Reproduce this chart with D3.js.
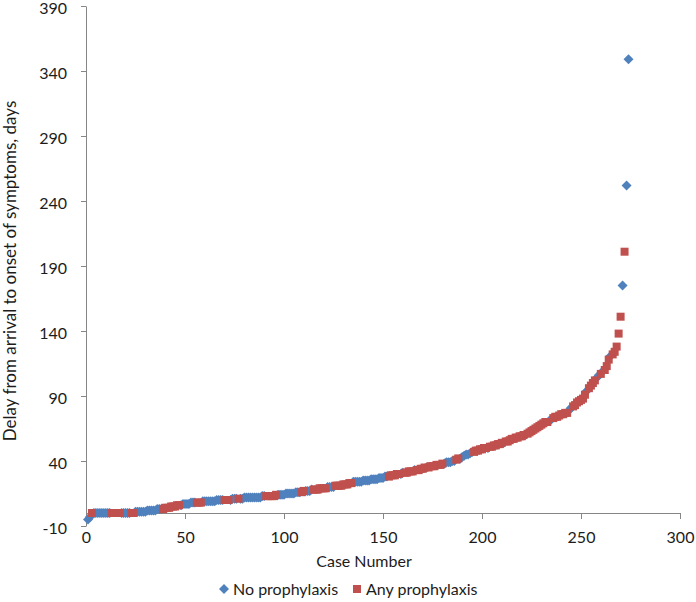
<!DOCTYPE html>
<html><head><meta charset="utf-8">
<script src="https://cdn.jsdelivr.net/npm/d3@7"></script>
<style>
body{margin:0;background:#fff}
svg text{font-family:Lato, "Open Sans", sans-serif; fill:#1c1c1c}
</style>
</head><body>
<svg id="c" width="696" height="602"></svg>
<script>
// Delay (days) for each case, sorted ascending; case number = position (1..274)
const delays = [
 -5,-3,0,0,0,0,0,0,0,0,
 0,0,0,0,0,0,0,0,0,0,
 0,0,0,0,1,1,1,1,1,1,
 2,2,2,2,2,3,3,3,3,4,
 4,4,5,5,5,6,6,6,7,7,
 7,7,8,8,8,8,8,8,9,9,
 9,9,9,9,9,10,10,10,10,10,
 10,10,10,11,11,11,11,11,11,12,
 12,12,12,12,12,12,12,12,13,13,
 13,13,13,13,13,14,14,14,14,14,
 15,15,15,15,15,16,16,16,16,17,
 17,17,17,18,18,18,18,19,19,19,
 19,20,20,20,20,21,21,21,21,22,
 22,22,23,23,24,24,24,24,24,25,
 25,25,25,26,26,26,26,27,27,27,
 28,28,28,29,29,29,30,30,30,31,
 31,31,32,32,32,33,33,33,34,34,
 35,35,35,36,36,36,37,37,37,38,
 38,39,39,39,40,40,41,42,42,43,
 44,45,45,46,47,47,48,48,49,49,
 50,50,50,51,51,52,52,53,53,54,
 54,55,55,56,57,57,58,58,59,59,
 60,60,61,62,63,64,65,66,67,68,
 69,70,70,71,72,73,74,74,75,76,
 76,77,77,79,81,82,83,85,86,87,
 88,91,94,96,98,100,102,104,106,107,
 109,110,113,118,121,122,124,128,138,151,
 175,201,252,349
];
// Case numbers that received any prophylaxis (all others: no prophylaxis)
const anyProphylaxisCases = [
 3,13,14,15,16,17,23,24,
 39,40,41,42,43,44,45,46,47,56,57,58,70,71,72,77,
 91,92,93,94,95,96,109,110,115,116,117,118,119,120,121,
 126,127,128,129,130,131,132,133,134,
 153,154,155,156,157,158,
 161,162,163,164,165,167,168,169,170,171,173,174,175,176,177,178,179,180,
 187,188,
 196,197,198,199,200,201,202,204,205,206,207,208,209,210,212,213,214,215,216,217,218,219,220,221,
 223,224,225,226,227,228,229,230,231,232,233,236,237,238,239,240,241,242,243,
 246,247,248,249,250,251,252,254,255,256,257,260,262,263,264,266,267,268,269,270,272
];
const xTicks = [0,50,100,150,200,250,300];
const yTicks = [-10,40,90,140,190,240,290,340,390];
const seriesNames = ["No prophylaxis","Any prophylaxis"];
const seriesColors = ["#4F81BD","#C0504D"];
const xTitle = "Case Number";
const yTitle = "Delay from arrival to onset of symptoms, days";

const svg = d3.select("#c");
const FS = "16px";
const axisColor = "#868686";
const x = d3.scaleLinear().domain([0,300]).range([86,680]);
const y = d3.scaleLinear().domain([-10,390]).range([526,6]);

const anySet = new Set(anyProphylaxisCases);
const points = delays.map((v,i)=>({c:i+1, v, any:anySet.has(i+1)}));
const fmt = d => String(d);

// Y axis
const gy = svg.append("g").attr("transform","translate(86,0)")
  .call(d3.axisLeft(y).tickValues(yTicks).tickSize(5).tickSizeOuter(0).tickPadding(14).tickFormat(fmt));
gy.selectAll(".tick text").attr("dy","0.45em");
// X axis line at y=0 with ticks
const gx = svg.append("g").attr("transform",`translate(0,${y(0)})`)
  .call(d3.axisBottom(x).tickValues(xTicks).tickSize(6).tickSizeOuter(0).tickFormat(""));
// X labels at low position
const gxl = svg.append("g").attr("transform",`translate(0,${y(-10)})`)
  .call(d3.axisBottom(x).tickValues(xTicks).tickSize(0).tickPadding(6).tickFormat(fmt));
gxl.select(".domain").remove();
gxl.selectAll("line").remove();
[gy,gx].forEach(g=>{
  g.selectAll("path,line").attr("stroke",axisColor).attr("stroke-width",1);
});
svg.selectAll(".tick text").attr("font-size",FS).attr("font-family","Lato, sans-serif").attr("fill","#1c1c1c");

// Series
const diamond = d3.symbol().type(d3.symbolSquare).size(50);
const square = d3.symbol().type(d3.symbolSquare).size(64);
svg.append("g").selectAll("path").data(points.filter(d=>!d.any)).join("path")
  .attr("d",diamond())
  .attr("transform",d=>`translate(${x(d.c)},${y(d.v)}) rotate(45)`)
  .attr("fill",seriesColors[0]);
svg.append("g").selectAll("path").data(points.filter(d=>d.any)).join("path")
  .attr("d",square())
  .attr("transform",d=>`translate(${x(d.c)},${y(d.v)})`)
  .attr("fill",seriesColors[1]);

// Axis titles
svg.append("text").attr("x",364).attr("y",567).attr("text-anchor","middle")
  .attr("font-size",FS).text(xTitle);
svg.append("text").attr("transform","translate(16,271) rotate(-90)")
  .attr("text-anchor","middle").attr("font-size","17px").text(yTitle);

// Legend
const leg = svg.append("g");
leg.append("path").attr("d",diamond()).attr("transform","translate(224,589) rotate(45)").attr("fill",seriesColors[0]);
leg.append("text").attr("x",233).attr("y",594.5).attr("font-size",FS).text(seriesNames[0]);
leg.append("path").attr("d",square()).attr("transform","translate(357,589)").attr("fill",seriesColors[1]);
leg.append("text").attr("x",366).attr("y",594.5).attr("font-size",FS).text(seriesNames[1]);
</script>
</body></html>
